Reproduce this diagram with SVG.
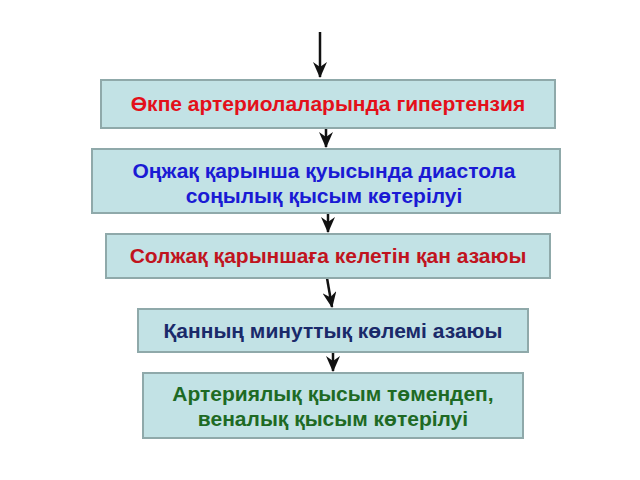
<svg xmlns="http://www.w3.org/2000/svg" width="640" height="480" viewBox="0 0 640 480">
<style>
.box{fill:#c2e2e5;stroke:#8fa9aa;stroke-width:2}
.t{font-family:"Liberation Sans",Arial,sans-serif;font-weight:bold;font-size:21px;text-anchor:middle}
.c{stroke:#111;stroke-width:2.5;fill:none;marker-end:url(#ah)}
</style>
<defs>
<marker id="ah" viewBox="0 0 16 14" refX="15" refY="7" markerWidth="16" markerHeight="14" markerUnits="userSpaceOnUse" orient="auto">
<path d="M0,0 L16,7 L0,14 L5,7 Z" fill="#111"/>
</marker>
</defs>
<rect width="640" height="480" fill="#fff"/>
<g id="connectors">
<line class="c" x1="320" y1="32" x2="320" y2="77"/>
<line class="c" x1="326" y1="128" x2="326" y2="147"/>
<line class="c" x1="328" y1="213" x2="328" y2="232"/>
<line class="c" x1="327" y1="278" x2="332" y2="307"/>
<line class="c" x1="333" y1="352" x2="333" y2="371"/>
</g>
<g id="n1">
<rect class="box" x="101" y="80" width="454" height="48"/>
<text class="t" x="328" y="111" fill="#e3101a">Өкпе артериолаларында гипертензия</text>
</g>
<g id="n2">
<rect class="box" x="92" y="149" width="468" height="64"/>
<text class="t" x="324" y="178" fill="#1a1ad4">Оңжақ қарынша қуысында диастола</text>
<text class="t" x="324" y="203" fill="#1a1ad4">соңылық қысым көтерілуі</text>
</g>
<g id="n3">
<rect class="box" x="106" y="234" width="444" height="44"/>
<text class="t" x="328" y="263" fill="#c0141e">Солжақ қарыншаға келетін қан азаюы</text>
</g>
<g id="n4">
<rect class="box" x="138" y="309" width="390" height="43"/>
<text class="t" x="333" y="338" fill="#1a2a6a">Қанның минуттық көлемі азаюы</text>
</g>
<g id="n5">
<rect class="box" x="143" y="373" width="380" height="65"/>
<text class="t" x="333" y="401" fill="#1e6a24">Артериялық қысым төмендеп,</text>
<text class="t" x="333" y="426" fill="#1e6a24">веналық қысым көтерілуі</text>
</g>
</svg>
